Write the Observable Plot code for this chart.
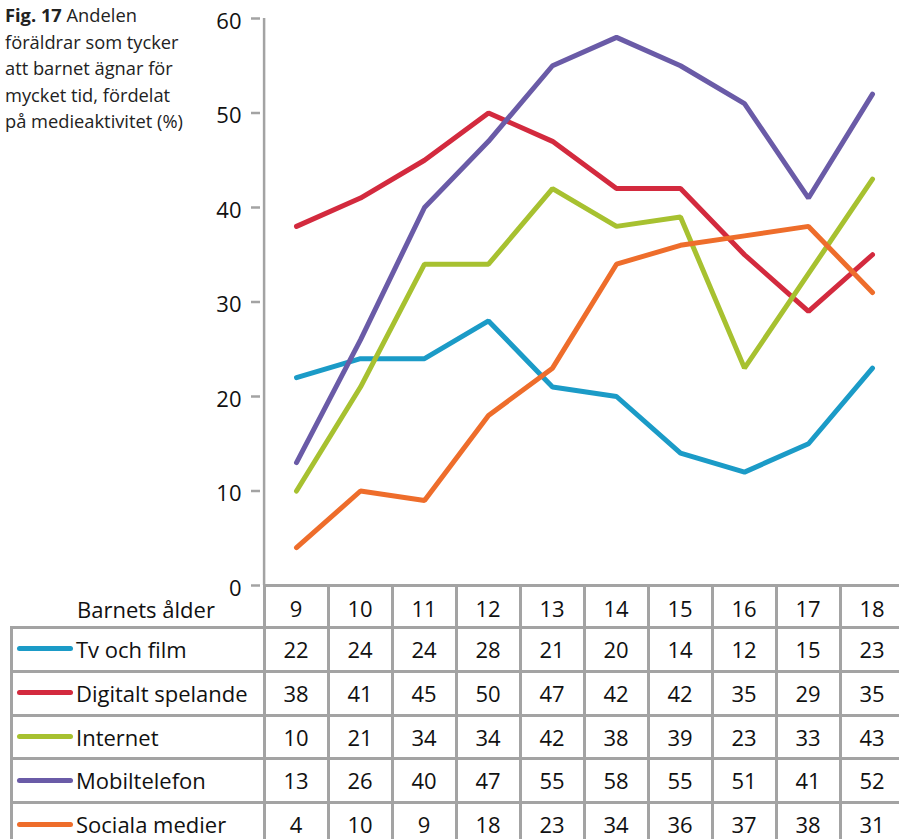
<!DOCTYPE html>
<html><head><meta charset="utf-8">
<script src="https://cdn.jsdelivr.net/npm/d3@7"></script>
<script src="https://cdn.jsdelivr.net/npm/@observablehq/plot@0.6"></script>
<style>
html,body{margin:0;padding:0;background:#fff;overflow:hidden}
#wrap{position:relative;width:899px;height:839px;overflow:hidden;font-family:"Open Sans",sans-serif;color:#111}
#title{position:absolute;left:5px;top:2px;font-size:18.3px;line-height:26.5px;color:#222;white-space:nowrap}
#chart{position:absolute;left:0;top:0}
#chart svg{overflow:visible}
.hl{position:absolute;height:3px;background:#a3a3a3}
.vl{position:absolute;width:3px;background:#a3a3a3}
.cell{position:absolute;font-size:22px;text-align:center;line-height:1}
.lab{position:absolute;font-size:22px;line-height:1;white-space:nowrap}
.sw{position:absolute;height:5px;border-radius:3px}
</style></head>
<body><div id="wrap">
<div id="title"><b>Fig. 17</b> Andelen<br>föräldrar som tycker<br>att barnet ägnar för<br>mycket tid, fördelat<br>på medieaktivitet (%)</div>
<div id="chart"></div>
</div>
<script>
const ages = [9, 10, 11, 12, 13, 14, 15, 16, 17, 18];
const seriesNames = ["Tv och film", "Digitalt spelande", "Internet", "Mobiltelefon", "Sociala medier"];
const seriesColors = ["#1b9bc7", "#d32a3e", "#a7c130", "#6a5ba7", "#ee6d2b"];
const tvOchFilm = [22, 24, 24, 28, 21, 20, 14, 12, 15, 23];
const digitaltSpelande = [38, 41, 45, 50, 47, 42, 42, 35, 29, 35];
const internet = [10, 21, 34, 34, 42, 38, 39, 23, 33, 43];
const mobiltelefon = [13, 26, 40, 47, 55, 58, 55, 51, 41, 52];
const socialaMedier = [4, 10, 9, 18, 23, 34, 36, 37, 38, 31];
const yTicks = [0, 10, 20, 30, 40, 50, 60];
const headerLabel = "Barnets ålder";

const seriesValues = [tvOchFilm, digitaltSpelande, internet, mobiltelefon, socialaMedier];
const data = [];
seriesNames.forEach((name, i) => ages.forEach((a, j) => data.push({serie: name, age: a, value: seriesValues[i][j]})));

const xRange = [260, 908];
const xStep = (xRange[1] - xRange[0]) / ages.length;

const chart = Plot.plot({
  width: 899, height: 586,
  marginLeft: 260, marginRight: 0, marginTop: 18, marginBottom: 1,
  style: {fontFamily: "'Open Sans', sans-serif", fontSize: "22px", color: "#111", background: "transparent"},
  x: {type: "point", domain: ages, range: xRange, padding: 0.5, axis: null},
  y: {domain: [0, 60], axis: null},
  color: {domain: seriesNames, range: seriesColors},
  marks: [
    Plot.axisY({ticks: yTicks, tickSize: 9, tickFormat: () => "", label: null, stroke: "#a3a3a3", strokeWidth: 2.5}),
    Plot.axisY({ticks: yTicks, tickSize: 0, tickPadding: 19, dy: 3, label: null, fontSize: 22, fill: "#111"}),
    Plot.ruleX([ages[0]], {x: d => d, y1: 0, y2: 60, dx: -xStep / 2, stroke: "#a3a3a3", strokeWidth: 2.5}),
    Plot.line(data, {x: "age", y: "value", z: "serie", stroke: "serie", strokeWidth: 5, strokeLinecap: "round", strokeLinejoin: "miter"})
  ]
});
document.getElementById("chart").appendChild(chart);

// Table below, aligned with the x scale
const xs = chart.scale("x");
const step = xs.apply(ages[1]) - xs.apply(ages[0]);
const wrap = document.getElementById("wrap");
const top0 = 584, headerH = 42, rowH = 43.8, tableLeft = 10, colLeft = xs.apply(ages[0]) - step / 2;
function add(cls, css, text) {
  const d = document.createElement("div"); d.className = cls;
  Object.assign(d.style, css); if (text != null) d.textContent = text; wrap.appendChild(d); return d;
}
const nRows = seriesNames.length;
const bottom = top0 + headerH + rowH * nRows + 10;
add("hl", {left: (colLeft - 0.5) + "px", top: top0 + "px", width: (908 - colLeft + 10) + "px"});
for (let r = 0; r <= nRows; r++) {
  const y = top0 + headerH + r * rowH;
  add("hl", {left: tableLeft + "px", top: y + "px", width: (908 - tableLeft + 10) + "px"});
}
add("vl", {left: tableLeft + "px", top: (top0 + headerH) + "px", height: (bottom - top0 - headerH) + "px"});
ages.forEach(a => {
  const x = xs.apply(a) - step / 2;
  add("vl", {left: (x - 1.5) + "px", top: top0 + "px", height: (bottom - top0) + "px"});
});
add("vl", {left: (xs.apply(ages[ages.length - 1]) + step / 2 - 1.5) + "px", top: top0 + "px", height: (bottom - top0) + "px"});
add("lab", {left: "77px", top: (top0 + 14) + "px"}, headerLabel);
ages.forEach(a => add("cell", {left: (xs.apply(a) - step / 2) + "px", width: step + "px", top: (top0 + 13) + "px"}, String(a)));
seriesNames.forEach((name, i) => {
  const y = top0 + headerH + i * rowH;
  add("sw", {left: "17px", width: "56px", top: (y + rowH / 2 - 1.5) + "px", background: seriesColors[i]});
  add("lab", {left: "76px", top: (y + 12) + "px"}, name);
  ages.forEach((a, j) => add("cell", {left: (xs.apply(a) - step / 2) + "px", width: step + "px", top: (y + 12) + "px"}, String(seriesValues[i][j])));
});
</script>
</body></html>
